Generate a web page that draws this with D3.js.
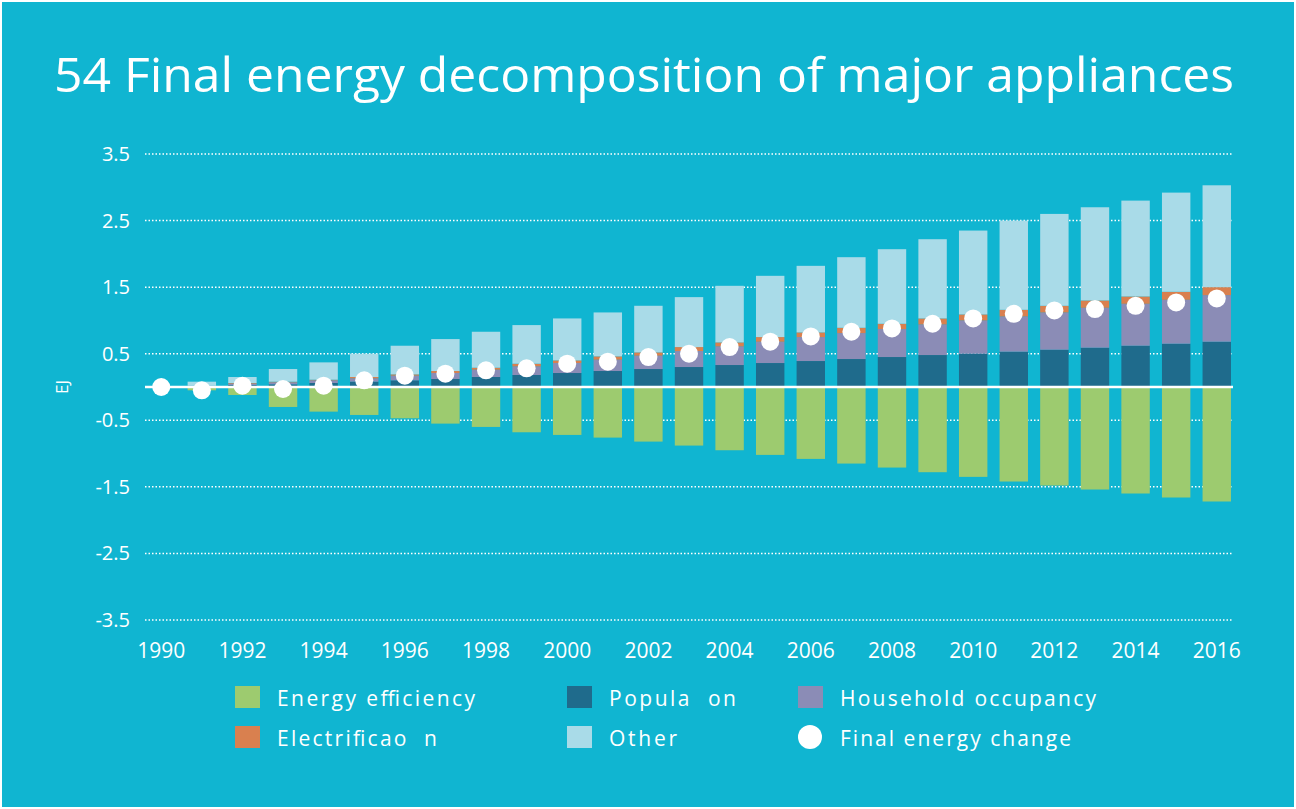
<!DOCTYPE html>
<html><head><meta charset="UTF-8">
<script src="https://cdnjs.cloudflare.com/ajax/libs/d3/7.8.5/d3.min.js"></script>
<style>body{margin:0;background:#fff}text{font-family:"Open Sans",sans-serif;fill:#fff}</style>
</head><body><svg width="1296" height="809"></svg>
<script>
const years = d3.range(1990, 2017);
const efficiency = [0,-0.05,-0.12,-0.3,-0.37,-0.42,-0.47,-0.55,-0.6,-0.68,-0.72,-0.76,-0.82,-0.88,-0.95,-1.02,-1.08,-1.15,-1.21,-1.28,-1.35,-1.42,-1.48,-1.54,-1.6,-1.66,-1.72];
const population = [0,0.01,0.03,0.04,0.06,0.08,0.1,0.12,0.15,0.18,0.21,0.24,0.27,0.3,0.33,0.36,0.39,0.42,0.45,0.48,0.5,0.53,0.56,0.59,0.62,0.65,0.68];
const occupancy = [0,0.01,0.02,0.03,0.04,0.05,0.07,0.09,0.11,0.13,0.15,0.17,0.2,0.24,0.28,0.32,0.36,0.39,0.42,0.46,0.5,0.53,0.56,0.6,0.63,0.66,0.7];
const electrification = [0,0,0.01,0.01,0.01,0.02,0.02,0.03,0.03,0.04,0.04,0.05,0.05,0.06,0.06,0.07,0.07,0.08,0.08,0.09,0.09,0.1,0.1,0.11,0.11,0.12,0.12];
const other = [0,0.06,0.09,0.19,0.26,0.35,0.43,0.48,0.54,0.58,0.63,0.66,0.7,0.75,0.85,0.92,1.0,1.06,1.12,1.19,1.26,1.34,1.38,1.4,1.44,1.49,1.53];
const finalChange = [0,-0.05,0.02,-0.03,0.02,0.1,0.17,0.2,0.25,0.28,0.35,0.38,0.45,0.5,0.6,0.68,0.76,0.83,0.88,0.95,1.03,1.1,1.15,1.17,1.22,1.27,1.33];
const yTicks = [3.5,2.5,1.5,0.5,-0.5,-1.5,-2.5,-3.5];
const xTicks = d3.range(1990, 2017, 2);

const colors = {eff:"#9dcb6f", pop:"#1f6b8c", occ:"#8b8cb6", ele:"#d9804f", oth:"#a9dbe8"};
const svg = d3.select("svg");
svg.append("rect").attr("x",2).attr("y",2).attr("width",1292).attr("height",805).attr("fill","#10b5d1");
svg.append("text").attr("x",644).attr("y",92).attr("text-anchor","middle").attr("font-size",47)
  .attr("textLength",1180).attr("lengthAdjust","spacingAndGlyphs").text("54 Final energy decomposition of major appliances");

const x = d3.scaleBand().domain(years).range([145,1233]).paddingInner(0.3).paddingOuter(0.05);
const y = d3.scaleLinear().domain([-3.5,3.5]).range([620,154]);

const g = svg.append("g");
yTicks.forEach(t => {
  g.append("line").attr("x1",145).attr("x2",1233).attr("y1",y(t)).attr("y2",y(t))
    .attr("stroke","#fff").attr("stroke-width",1.5).attr("stroke-dasharray","1.5,2");
  g.append("text").attr("x",130).attr("y",y(t)+7).attr("text-anchor","end").attr("font-size",20).text(t);
});
svg.append("text").attr("transform",`translate(68,${y(0)}) rotate(-90)`).attr("text-anchor","middle").attr("font-size",17).text("EJ");

const stackSeries = [[population,colors.pop],[occupancy,colors.occ],[electrification,colors.ele],[other,colors.oth]];
years.forEach((yr,i) => {
  let base = 0;
  stackSeries.forEach(([arr,c]) => {
    const v = arr[i];
    g.append("rect").attr("x",x(yr)).attr("width",x.bandwidth())
      .attr("y",y(base+v)).attr("height",y(base)-y(base+v)).attr("fill",c);
    base += v;
  });
  g.append("rect").attr("x",x(yr)).attr("width",x.bandwidth())
    .attr("y",y(0)).attr("height",y(efficiency[i])-y(0)).attr("fill",colors.eff);
});
g.append("line").attr("x1",145).attr("x2",1233).attr("y1",y(0)).attr("y2",y(0)).attr("stroke","#fff").attr("stroke-width",2.5);
years.forEach((yr,i) => {
  g.append("circle").attr("cx",x(yr)+x.bandwidth()/2).attr("cy",y(finalChange[i])).attr("r",9).attr("fill","#fff");
});
xTicks.forEach(t => {
  g.append("text").attr("x",x(t)+x.bandwidth()/2).attr("y",658).attr("text-anchor","middle").attr("font-size",21).text(t);
});

const legend = [
  ["Energy efficiency",colors.eff,235,698,"rect",198],["Popula  on",colors.pop,567,698,"rect",127],["Household occupancy",colors.occ,798,698,"rect",256],
  ["Electrificao  n",colors.ele,235,738,"rect",160],["Other",colors.oth,567,738,"rect",68],["Final energy change","#fff",798,738,"circle",231]];
legend.forEach(([lab,c,lx,ly,shape,w]) => {
  if (shape==="rect") svg.append("rect").attr("x",lx).attr("y",ly-12).attr("width",25).attr("height",22).attr("fill",c);
  else svg.append("circle").attr("cx",lx+12).attr("cy",ly-1).attr("r",12).attr("fill",c);
  svg.append("text").attr("x",lx+42).attr("y",ly+8).attr("font-size",21).attr("textLength",w)
    .attr("xml:space","preserve").style("white-space","pre").text(lab);
});
</script></body></html>
